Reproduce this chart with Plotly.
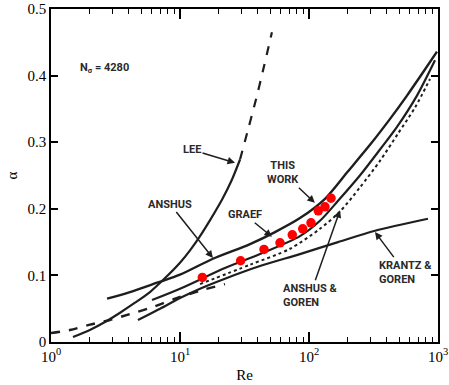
import numpy as np
import plotly.graph_objects as go

# ---------------- data ----------------
lee_re = [1.48, 2.0, 2.62, 3.43, 4.48, 5.85, 7.66, 10.0, 12.0, 14.3, 17.1, 21.2, 25.3, 29.2]
lee_alpha = [0.0075, 0.018, 0.030, 0.044, 0.059, 0.075, 0.096, 0.119, 0.138, 0.159, 0.183, 0.214, 0.244, 0.274]
lee_ext_re = [29.2, 33.7, 38.8, 44.8, 51.6]
lee_ext_alpha = [0.274, 0.319, 0.364, 0.414, 0.465]

anshus_re = [2.72, 4.09, 6.64, 10.0, 18.0, 34.9, 54.5, 85.1, 133, 200, 297, 425, 575, 766, 982]
anshus_alpha = [0.065, 0.075, 0.089, 0.101, 0.125, 0.147, 0.165, 0.186, 0.215, 0.256, 0.296, 0.335, 0.370, 0.405, 0.436]

graef_re = [6.07, 10.0, 22.3, 41.7, 85.1, 121.6, 167.9, 248, 355, 481, 687, 948]
graef_alpha = [0.063, 0.080, 0.111, 0.132, 0.159, 0.182, 0.212, 0.250, 0.289, 0.323, 0.370, 0.423]

ag_re = [14.3, 34.9, 71.3, 121.6, 173.9, 248, 355, 490, 663, 867]
ag_alpha = [0.087, 0.116, 0.140, 0.170, 0.196, 0.232, 0.272, 0.313, 0.352, 0.395]

kg_re = [4.72, 7.0, 10.0, 14.3, 22.3, 41.7, 85.1, 167.9, 325, 836]
kg_alpha = [0.033, 0.050, 0.066, 0.080, 0.095, 0.114, 0.132, 0.150, 0.167, 0.185]

low_re = [1.0, 1.40, 2.0, 2.86, 4.09, 5.85, 9.14, 14.3, 22.3]
low_alpha = [0.0135, 0.018, 0.026, 0.033, 0.042, 0.051, 0.065, 0.077, 0.087]

work_re = [14.9, 29.5, 44.8, 59.6, 74.2, 89.4, 103.6, 118, 133, 148]
work_alpha = [0.097, 0.122, 0.139, 0.149, 0.161, 0.170, 0.179, 0.197, 0.203, 0.216]

x_tickvals = [1, 10, 100, 1000]
x_ticktext = ["10<sup>0</sup>", "10<sup>1</sup>", "10<sup>2</sup>", "10<sup>3</sup>"]

INK = "#1e1e1e"
fig = go.Figure()

def line(x, y, dash="solid", width=2.2):
    fig.add_trace(go.Scatter(x=x, y=y, mode="lines",
                             line=dict(color=INK, width=width, dash=dash, shape="spline", smoothing=0.8),
                             showlegend=False, hoverinfo="skip"))

line(low_re, low_alpha, dash="dash", width=2.4)
line(kg_re, kg_alpha)
line(ag_re, ag_alpha, dash="dot", width=2.0)
line(graef_re, graef_alpha)
line(anshus_re, anshus_alpha, width=2.4)
line(lee_re, lee_alpha)
line(lee_ext_re, lee_ext_alpha, dash="dash")

fig.add_trace(go.Scatter(x=work_re, y=work_alpha, mode="markers",
                         marker=dict(color="#ff0000", size=9.5),
                         showlegend=False, hoverinfo="skip"))

LBL = dict(family="Roboto, Liberation Sans Narrow, DejaVu Sans Condensed, sans-serif",
           size=11, color="#2a2a2a", weight="bold")

def label(text, tip_re, tip_a, ax, ay, align="center"):
    fig.add_annotation(x=np.log10(tip_re), y=tip_a, xref="x", yref="y", text=text,
                       showarrow=True, ax=ax, ay=ay, arrowhead=2, arrowsize=1,
                       arrowwidth=1.5, arrowcolor=INK, font=LBL, align=align)

label("LEE", 26.7, 0.269, -43, -13)
label("ANSHUS", 18.0, 0.126, -43, -54)
label("GRAEF", 51.6, 0.158, -27, -22)
label("THIS<br>WORK", 111, 0.209, -32, -30)
label("ANSHUS &<br>GOREN", 174, 0.198, -30, 85, align="left")
label("KRANTZ &<br>GOREN", 325, 0.165, 30, 40, align="left")

fig.add_annotation(x=np.log10(2.58), y=0.412, xref="x", yref="y",
                   text="N<sub>σ</sub> = 4280", showarrow=False, font=LBL)

AX_FONT = dict(family="Liberation Serif, DejaVu Serif, serif", size=15, color="black")

fig.update_xaxes(type="log", range=[0, 3], tickvals=x_tickvals, ticktext=x_ticktext,
                 ticks="inside", ticklen=10, tickwidth=1.5, tickcolor="black",
                 minor=dict(ticks="inside", ticklen=5, tickwidth=1, tickcolor="black", dtick="D1", showgrid=False),
                 showline=True, linecolor="black", linewidth=1.5, mirror="ticks",
                 showgrid=False, zeroline=False, tickfont=AX_FONT, automargin=False,
                 title=dict(text="Re", font=AX_FONT, standoff=6))
fig.update_yaxes(range=[0, 0.5], dtick=0.1, tick0=0,
                 ticks="inside", ticklen=7, tickwidth=2, tickcolor="black",
                 showline=True, linecolor="black", linewidth=1.5, mirror="ticks",
                 showgrid=False, zeroline=False, tickfont=AX_FONT, automargin=False,
                 title=dict(text="α", font=AX_FONT, standoff=6))

fig.update_layout(width=449, height=385, margin=dict(l=51, r=11, t=9, b=43, autoexpand=False),
                  paper_bgcolor="white", plot_bgcolor="white")

fig.write_html("out.html", config={"displayModeBar": False},
               post_script="document.body.style.margin='0px';document.body.style.overflow='hidden';")
